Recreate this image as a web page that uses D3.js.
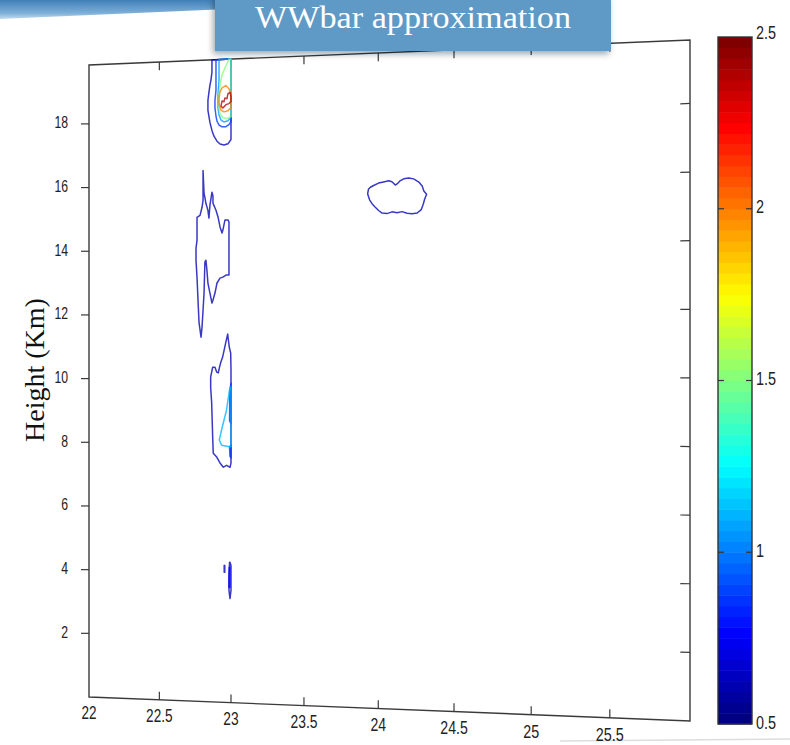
<!DOCTYPE html>
<html>
<head>
<meta charset="utf-8">
<script src="https://cdn.jsdelivr.net/npm/d3@7"></script>
<style>
  html, body { margin: 0; padding: 0; background: #ffffff; }
  svg { display: block; }
  .tick_label { font-family: "Liberation Sans", Arial, sans-serif; fill: #222222; }
  .slide_text { font-family: "Liberation Serif", "DejaVu Serif", serif; }
</style>
</head>
<body>
<svg id="mainsvg" width="790" height="745"></svg>
<script>

// ---- data ----
const xDomain = [22, 26]
const yDomain = [0, 19.85]
const xTicks = [22, 22.5, 23, 23.5, 24, 24.5, 25, 25.5]
const yTicks = [2, 4, 6, 8, 10, 12, 14, 16, 18]
const cbarDomain = [0.5, 2.5]
const cbarTicks = [0.5, 1, 1.5, 2, 2.5]

// contour lines, points are [x, height km]
const topOuter = [[22.868,19.85],[22.868,19.47],[22.861,19.22],[22.854,19.07],[22.847,18.85],[22.840,18.60],[22.840,18.29],[22.847,18.11],[22.854,17.92],[22.868,17.67],[22.882,17.49],[22.903,17.33],[22.924,17.24],[22.951,17.21],[22.979,17.24],[23.0,17.37],[23.0,19.85]]
const topBlue = [[22.896,19.85],[22.896,19.38],[22.896,18.91],[22.889,18.60],[22.889,18.36],[22.896,18.11],[22.903,17.95],[22.917,17.83],[22.938,17.77],[22.965,17.77],[22.986,17.83],[23.0,17.92],[23.0,19.85]]
const topCyan = [[22.917,19.85],[22.917,19.22],[22.910,18.76],[22.910,18.36],[22.917,18.14],[22.931,17.98],[22.951,17.92],[22.979,17.95],[23.0,18.05],[23.0,19.85]]
const topGreen = [[22.986,19.85],[22.965,19.65],[22.938,19.38],[22.924,19.07],[22.917,18.76],[22.917,18.36],[22.924,18.17],[22.944,18.05],[22.972,18.02],[23.0,18.08],[23.0,19.85]]
const topOrange = [[22.938,18.97],[22.924,18.85],[22.917,18.66],[22.917,18.48],[22.931,18.29],[22.951,18.23],[22.979,18.26],[23.0,18.36],[23.0,18.76],[22.986,18.94],[22.965,19.04]]
const topRed = [[22.931,18.41],[22.938,18.57],[22.951,18.54],[22.958,18.66],[22.972,18.63],[22.979,18.79],[22.993,18.82],[23.0,18.70],[23.0,18.54],[22.986,18.48],[22.965,18.45],[22.944,18.35]]
const midOuter = [[22.806,16.44],[22.813,15.73],[22.819,15.60],[22.826,15.42],[22.840,15.20],[22.847,14.96],[22.854,15.36],[22.868,15.76],[22.875,15.64],[22.875,15.42],[22.896,15.20],[22.910,14.99],[22.924,14.68],[22.938,14.49],[22.944,14.58],[22.958,14.89],[22.979,14.89],[22.986,14.83],[22.986,13.19],[22.965,13.19],[22.944,13.13],[22.924,13.10],[22.903,12.95],[22.889,12.64],[22.875,12.42],[22.868,12.33],[22.854,12.64],[22.840,12.95],[22.833,13.35],[22.826,13.66],[22.819,13.60],[22.813,12.64],[22.806,12.11],[22.799,11.59],[22.792,11.28],[22.778,11.74],[22.771,12.42],[22.764,13.13],[22.757,13.66],[22.757,14.03],[22.764,14.28],[22.764,14.99],[22.785,15.05],[22.799,15.30],[22.806,15.51]]
const lowOuter = [[22.977,11.37],[22.988,10.97],[22.998,10.78],[23.0,10.26],[23.0,7.39],[22.993,7.26],[22.970,7.32],[22.947,7.26],[22.924,7.39],[22.901,7.57],[22.877,7.69],[22.873,8.19],[22.866,9.24],[22.859,9.73],[22.859,10.04],[22.873,10.35],[22.889,10.35],[22.901,10.20],[22.912,10.17],[22.919,10.32],[22.928,10.48],[22.942,10.66],[22.953,10.88],[22.963,11.09]]
const lowBlueA = [[23.0,9.85],[22.992,9.62],[22.990,8.70],[23.0,8.60]]
const lowBlueB = [[23.0,7.95],[22.990,7.88],[22.993,7.60],[23.0,7.55]]
const lowCyan = [[23.0,9.74],[22.993,9.74],[22.969,9.02],[22.938,8.47],[22.919,8.10],[22.935,7.94],[22.993,7.89],[23.0,7.89]]
const smallOuter = [[22.990,4.33],[22.986,3.92],[22.986,3.46],[22.993,3.21],[23.0,3.46],[23.0,4.23],[22.993,4.33]]
const smallBlue = [[22.988,4.17],[22.986,3.55],[22.993,3.55],[22.993,4.17]]
const smallDot = [[22.953,4.23],[22.953,4.02],[22.957,4.02],[22.957,4.23]]
const rightOuter = [[23.935,15.74],[23.947,15.79],[23.969,15.84],[24.002,15.91],[24.035,15.94],[24.069,15.97],[24.091,15.94],[24.113,15.84],[24.125,15.87],[24.147,15.97],[24.169,16.02],[24.202,16.04],[24.235,16.01],[24.269,15.91],[24.291,15.79],[24.302,15.64],[24.320,15.54],[24.307,15.39],[24.298,15.24],[24.285,15.08],[24.258,14.98],[24.225,14.96],[24.191,14.98],[24.158,15.03],[24.125,15.00],[24.091,15.03],[24.058,14.98],[24.025,15.00],[24.002,15.08],[23.980,15.18],[23.958,15.29],[23.942,15.41],[23.929,15.59]]

const contourList = [
    { level: 0.6, pts: topOuter }, { level: 0.85, pts: topBlue }, { level: 1.05, pts: topCyan },
    { level: 1.5, pts: topGreen }, { level: 2.0, pts: topOrange }, { level: 2.4, pts: topRed },
    { level: 0.6, pts: midOuter }, { level: 0.6, pts: lowOuter }, { level: 0.85, pts: lowBlueA },
    { level: 0.85, pts: lowBlueB }, { level: 1.1, pts: lowCyan }, { level: 0.6, pts: smallOuter },
    { level: 0.75, pts: smallBlue }, { level: 0.6, pts: smallDot }, { level: 0.6, pts: rightOuter }
]

// ---- layout ----
// the figure sits on the slide in perspective, these are its four screen corners
const CORNER = { bl: [89, 697], br: [690, 721], tr: [690, 40], tl: [89, 65] }
const CBAR = { left: 718, right: 752, top: 37, bottom: 724 }

let svg = d3.select("#mainsvg")

const uScale = d3.scaleLinear().domain(xDomain).range([0, 1])
const vScale = d3.scaleLinear().domain(yDomain).range([0, 1])
const cScale = d3.scaleLinear().domain(cbarDomain).range([CBAR.bottom, CBAR.top])

// square -> quad homography
function homography (p0, p1, p2, p3) {
    let sx = p0[0] - p1[0] + p2[0] - p3[0]
    let sy = p0[1] - p1[1] + p2[1] - p3[1]
    let dx1 = p1[0] - p2[0], dx2 = p3[0] - p2[0]
    let dy1 = p1[1] - p2[1], dy2 = p3[1] - p2[1]
    let det = dx1 * dy2 - dx2 * dy1
    let g = (sx * dy2 - dx2 * sy) / det
    let h = (dx1 * sy - sx * dy1) / det
    return {
        a: p1[0] - p0[0] + g * p1[0], b: p3[0] - p0[0] + h * p3[0], c: p0[0],
        d: p1[1] - p0[1] + g * p1[1], e: p3[1] - p0[1] + h * p3[1], f: p0[1], g: g, h: h
    }
}
const H = homography(CORNER.bl, CORNER.br, CORNER.tr, CORNER.tl)

const project = function (x, y) {
    let u = uScale(x), v = vScale(y)
    let w = H.g * u + H.h * v + 1
    return [(H.a * u + H.b * v + H.c) / w, (H.d * u + H.e * v + H.f) / w]
}
// local size factor (the right side is closer to the viewer)
const localScale = function (x) {
    let full = project(x, yDomain[0])[1] - project(x, yDomain[1])[1]
    let left = project(xDomain[0], yDomain[0])[1] - project(xDomain[0], yDomain[1])[1]
    return full / left
}

function jet (t) {
    const cl = v => Math.max(0, Math.min(1, v))
    return d3.rgb(cl(1.5 - Math.abs(4 * t - 3)) * 255,
                  cl(1.5 - Math.abs(4 * t - 2)) * 255,
                  cl(1.5 - Math.abs(4 * t - 1)) * 255).formatHex()
}
const levelColor = lv => jet((lv - cbarDomain[0]) / (cbarDomain[1] - cbarDomain[0]))

function renderSlide () {
    let defs = svg.append("defs")
    let grad = defs.append("linearGradient").attr("id", "bandgrad")
        .attr("x1", 0).attr("y1", 0).attr("x2", 0).attr("y2", 1)
    grad.append("stop").attr("offset", "0%").attr("stop-color", "#3f7fb8")
    grad.append("stop").attr("offset", "70%").attr("stop-color", "#7fb0d8")
    grad.append("stop").attr("offset", "100%").attr("stop-color", "#c4dcef")

    let shadow = defs.append("filter").attr("id", "boxshadow")
        .attr("x", "-10%").attr("y", "-30%").attr("width", "120%").attr("height", "170%")
    shadow.append("feDropShadow").attr("dx", -2).attr("dy", 3).attr("stdDeviation", 3)
        .attr("flood-color", "#000").attr("flood-opacity", 0.35)

    svg.append("path")
        .attr("d", "M0,0 L400,0 L388,2 L0,19 Z")
        .attr("fill", "url(#bandgrad)")

    svg.append("line")
        .attr("x1", 560).attr("y1", 741).attr("x2", 790).attr("y2", 739)
        .attr("stroke", "#dddddd").attr("stroke-width", 1.5)

    svg.append("text")
        .attr("class", "slide_text")
        .attr("transform", "translate(44, 370) rotate(-90)")
        .attr("text-anchor", "middle")
        .attr("font-size", 28)
        .attr("fill", "#111111")
        .text("Height (Km)")
}

function renderAxes () {
    let g = svg.append("g").attr("id", "axes_group")

    g.append("path")
        .attr("d", d3.line()([project(22, 0), project(26, 0), project(26, yDomain[1]), project(22, yDomain[1])]) + "Z")
        .attr("fill", "#ffffff")
        .attr("stroke", "#3a3a3a")
        .attr("stroke-width", 1.4)

    // bottom and top ticks
    let xt = xTicks.filter(d => d > xDomain[0])
    g.selectAll(".xtick_b").data(xt).enter().append("line")
        .attr("class", "xtick_b")
        .attr("x1", d => project(d, 0)[0]).attr("y1", d => project(d, 0)[1])
        .attr("x2", d => project(d, 0)[0]).attr("y2", d => project(d, 0)[1] - 8 * localScale(d))
        .attr("stroke", "#3a3a3a").attr("stroke-width", 1.2)
    g.selectAll(".xtick_t").data(xt).enter().append("line")
        .attr("class", "xtick_t")
        .attr("x1", d => project(d, yDomain[1])[0]).attr("y1", d => project(d, yDomain[1])[1])
        .attr("x2", d => project(d, yDomain[1])[0]).attr("y2", d => project(d, yDomain[1])[1] + 8 * localScale(d))
        .attr("stroke", "#3a3a3a").attr("stroke-width", 1.2)

    // left ticks (outside) and right ticks (inside)
    g.selectAll(".ytick_l").data(yTicks).enter().append("line")
        .attr("class", "ytick_l")
        .attr("x1", d => project(22, d)[0]).attr("y1", d => project(22, d)[1])
        .attr("x2", d => project(22, d)[0] - 8).attr("y2", d => project(22, d)[1])
        .attr("stroke", "#3a3a3a").attr("stroke-width", 1.2)
    g.selectAll(".ytick_r").data(yTicks).enter().append("line")
        .attr("class", "ytick_r")
        .attr("x1", d => project(26, d)[0]).attr("y1", d => project(26, d)[1])
        .attr("x2", d => project(25.94, d)[0]).attr("y2", d => project(25.94, d)[1])
        .attr("stroke", "#3a3a3a").attr("stroke-width", 1.2)

    g.selectAll(".xlabel").data(xTicks).enter().append("text")
        .attr("class", "tick_label xlabel")
        .attr("transform", d => {
            let p = project(d, 0), s = localScale(d)
            return `translate(${p[0]}, ${p[1] + 17 * s}) scale(${0.75 * s}, ${s})`
        })
        .attr("text-anchor", "middle")
        .attr("dominant-baseline", "middle")
        .attr("font-size", 18)
        .text(d => d)

    g.selectAll(".ylabel").data(yTicks).enter().append("text")
        .attr("class", "tick_label ylabel")
        .attr("transform", d => {
            let p = project(22, d)
            return `translate(${p[0] - 21}, ${p[1]}) scale(0.72, 1)`
        })
        .attr("text-anchor", "end")
        .attr("dominant-baseline", "middle")
        .attr("font-size", 17)
        .text(d => d)
}

function renderContours () {
    let g = svg.append("g").attr("id", "contour_group")
    let line = d3.line()
        .x(d => project(d[0], d[1])[0])
        .y(d => project(d[0], d[1])[1])
        .curve(d3.curveLinearClosed)

    g.selectAll("path")
        .data(contourList)
        .enter()
        .append("path")
        .attr("d", d => line(d.pts))
        .attr("fill", "none")
        .attr("stroke", d => levelColor(d.level))
        .attr("stroke-opacity", 0.78)
        .attr("stroke-width", 1.5)
        .attr("stroke-linejoin", "round")
}

function renderColorbar () {
    let g = svg.append("g").attr("id", "cbar_group")
    let n = 64
    let cells = d3.range(n)
    let step = (cbarDomain[1] - cbarDomain[0]) / n

    g.selectAll("rect")
        .data(cells)
        .enter()
        .append("rect")
        .attr("x", CBAR.left)
        .attr("width", CBAR.right - CBAR.left)
        .attr("y", d => cScale(cbarDomain[0] + (d + 1) * step))
        .attr("height", d => cScale(cbarDomain[0] + d * step) - cScale(cbarDomain[0] + (d + 1) * step) + 0.5)
        .attr("fill", d => jet(d / (n - 1)))

    g.append("rect")
        .attr("x", CBAR.left).attr("y", CBAR.top)
        .attr("width", CBAR.right - CBAR.left).attr("height", CBAR.bottom - CBAR.top)
        .attr("fill", "none").attr("stroke", "#333333").attr("stroke-width", 1.4)

    let inner = cbarTicks.filter(d => d > cbarDomain[0] && d < cbarDomain[1])
    g.selectAll(".ctick_l").data(inner).enter().append("line")
        .attr("x1", CBAR.left).attr("x2", CBAR.left + 6)
        .attr("y1", d => cScale(d)).attr("y2", d => cScale(d))
        .attr("stroke", "#333333").attr("stroke-width", 1.2)
    g.selectAll(".ctick_r").data(inner).enter().append("line")
        .attr("x1", CBAR.right - 6).attr("x2", CBAR.right)
        .attr("y1", d => cScale(d)).attr("y2", d => cScale(d))
        .attr("stroke", "#333333").attr("stroke-width", 1.2)

    g.selectAll(".clabel").data(cbarTicks).enter().append("text")
        .attr("class", "tick_label clabel")
        .attr("transform", d => `translate(${CBAR.right + 4}, ${cScale(d) - (d === cbarDomain[1] ? 3 : 0)}) scale(0.8, 1)`)
        .attr("dominant-baseline", "middle")
        .attr("font-size", 18)
        .text(d => d)
}

function renderTitle () {
    svg.append("rect")
        .attr("x", 215).attr("y", -4)
        .attr("width", 396).attr("height", 55)
        .attr("fill", "#5f9ac6")
        .attr("filter", "url(#boxshadow)")
    svg.append("text")
        .attr("class", "slide_text")
        .attr("x", 413).attr("y", 21)
        .attr("text-anchor", "middle")
        .attr("dominant-baseline", "middle")
        .attr("font-size", 31)
        .attr("textLength", 316)
        .attr("lengthAdjust", "spacingAndGlyphs")
        .attr("fill", "#ffffff")
        .text("WWbar approximation")
}

renderSlide()
renderAxes()
renderContours()
renderColorbar()
renderTitle()
</script>
</body>
</html>
